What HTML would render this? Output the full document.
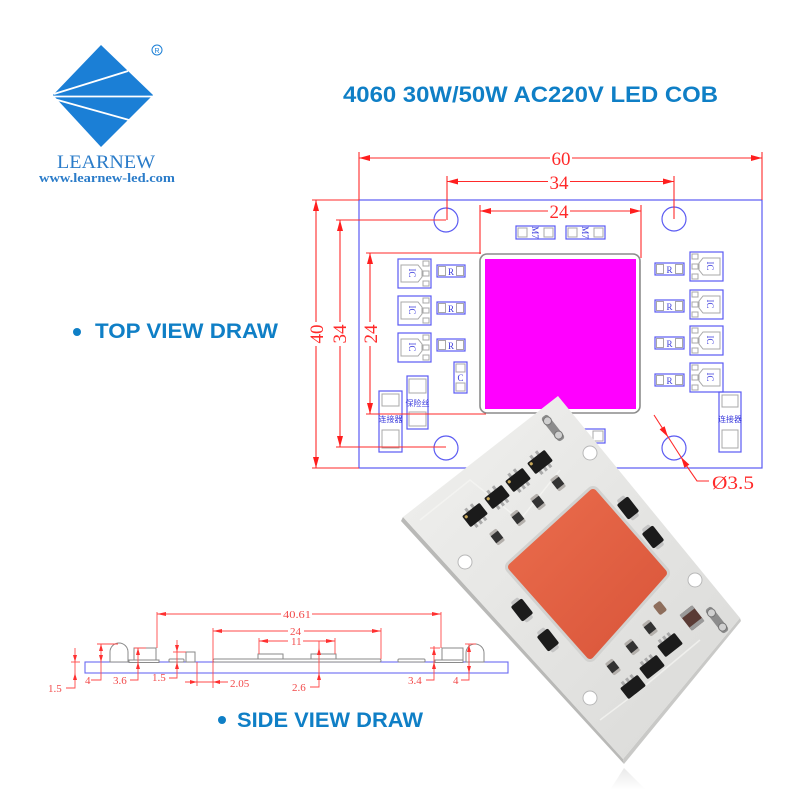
<!DOCTYPE html>
<html><head><meta charset="utf-8">
<style>
html,body{margin:0;padding:0;background:#fff}
svg{display:block}
.b{fill:none;stroke:#5b5bf2;stroke-width:1.2}
.g{fill:none;stroke:#a8a8a8;stroke-width:1}
.t{fill:#3b3bdc;font-family:"Liberation Serif",serif;font-size:9px}
.tc{fill:#3b3bdc;font-family:"Liberation Sans","Noto Sans CJK SC",sans-serif;font-size:8px}
.r{stroke:#ff2a2a;stroke-width:1.1;fill:none}
.rf{fill:#ff1e1e}
.rt{fill:#ff2a2a;font-family:"Liberation Serif",serif}
.sg{fill:#fff;stroke:#8a8a8a;stroke-width:1}
.sr{stroke:#ff4a4a;stroke-width:0.9;fill:none}
.srf{fill:#ff3030}
.st{fill:#f24a4a;font-family:"Liberation Serif",serif;font-size:11px}
</style></head>
<body>
<svg width="800" height="800" viewBox="0 0 800 800" xmlns="http://www.w3.org/2000/svg">
<defs>
<linearGradient id="pb" x1="0" y1="0" x2="1" y2="1">
<stop offset="0" stop-color="#f1f1ef"/><stop offset="1" stop-color="#d9d9d7"/>
</linearGradient>
<linearGradient id="or" x1="0" y1="0" x2="1" y2="1">
<stop offset="0" stop-color="#ea6c4c"/><stop offset="1" stop-color="#d9553a"/>
</linearGradient>
<linearGradient id="rf" x1="0" y1="0" x2="0" y2="1">
<stop offset="0" stop-color="#e4e4e4"/><stop offset="1" stop-color="#ffffff"/>
</linearGradient>
</defs>

<!-- LOGO -->
<polygon points="101,45 153,95 101,147 53,95" fill="#1b7fd6"/>
<line x1="54" y1="94" x2="128" y2="71" stroke="#fff" stroke-width="1.8"/>
<line x1="54" y1="96.5" x2="152" y2="96.5" stroke="#fff" stroke-width="1.8"/>
<line x1="54" y1="99" x2="129" y2="120" stroke="#fff" stroke-width="1.8"/>
<circle cx="157" cy="50" r="5" fill="none" stroke="#1b7fd6" stroke-width="1"/>
<text x="157" y="53" font-family="Liberation Sans,sans-serif" font-size="7" fill="#1b7fd6" text-anchor="middle">R</text>
<text x="57" y="168" font-family="Liberation Serif,serif" font-size="19" fill="#2b7cc9" textLength="98" lengthAdjust="spacingAndGlyphs">LEARNEW</text>
<text x="39" y="182" font-family="Liberation Serif,serif" font-size="13" font-weight="bold" fill="#2b7cc9" textLength="136" lengthAdjust="spacingAndGlyphs">www.learnew-led.com</text>

<!-- TITLE -->
<text x="343" y="102" font-family="Liberation Sans,sans-serif" font-size="22.5" font-weight="bold" fill="#0f7fc6" textLength="375" lengthAdjust="spacingAndGlyphs">4060 30W/50W AC220V LED COB</text>

<!-- TOP VIEW label -->
<circle cx="77" cy="332" r="4" fill="#0f7fc6"/>
<text x="95" y="338" font-family="Liberation Sans,sans-serif" font-size="21" font-weight="bold" fill="#0f7fc6" textLength="183" lengthAdjust="spacingAndGlyphs">TOP VIEW DRAW</text>

<!-- SIDE VIEW label -->
<circle cx="222" cy="720" r="4" fill="#0f7fc6"/>
<text x="237" y="727" font-family="Liberation Sans,sans-serif" font-size="21" font-weight="bold" fill="#0f7fc6" textLength="186" lengthAdjust="spacingAndGlyphs">SIDE VIEW DRAW</text>

<!-- ================= TOP DRAWING ================= -->
<rect x="359" y="200" width="403" height="268" fill="#fff" class="b"/>
<circle cx="446" cy="220" r="12" class="b"/>
<circle cx="674" cy="219" r="12" class="b"/>
<circle cx="446" cy="448" r="12" class="b"/>
<circle cx="674" cy="448" r="12" class="b"/>

<!-- COB -->
<rect x="480" y="254" width="160" height="159" rx="7" fill="#fff" stroke="#8c8c8c" stroke-width="1.6"/>
<rect x="485" y="259" width="151" height="150" fill="#ff00ff"/>

<!-- M7 boxes -->
<g transform="translate(516,226)"><rect width="39" height="13" class="b"/><rect x="2" y="2" width="9" height="9" class="g"/><rect x="28" y="2" width="9" height="9" class="g"/><text transform="translate(16,6.5) rotate(90)" class="t" font-size="7" text-anchor="middle">M7</text></g>
<g transform="translate(566,226)"><rect width="39" height="13" class="b"/><rect x="2" y="2" width="9" height="9" class="g"/><rect x="28" y="2" width="9" height="9" class="g"/><text transform="translate(16,6.5) rotate(90)" class="t" font-size="7" text-anchor="middle">M7</text></g>

<!-- left ICs -->
<g transform="translate(398,259)"><rect width="33" height="29" class="b"/><path d="M3,6H20L24,11V18L20,23H3Z" class="g"/><rect x="25" y="2" width="6" height="5" class="g"/><rect x="25" y="12" width="6" height="5" class="g"/><rect x="25" y="22" width="6" height="5" class="g"/><text transform="translate(11,14) rotate(90)" class="t" text-anchor="middle">IC</text></g>
<g transform="translate(398,296)"><rect width="33" height="29" class="b"/><path d="M3,6H20L24,11V18L20,23H3Z" class="g"/><rect x="25" y="2" width="6" height="5" class="g"/><rect x="25" y="12" width="6" height="5" class="g"/><rect x="25" y="22" width="6" height="5" class="g"/><text transform="translate(11,14) rotate(90)" class="t" text-anchor="middle">IC</text></g>
<g transform="translate(398,333)"><rect width="33" height="29" class="b"/><path d="M3,6H20L24,11V18L20,23H3Z" class="g"/><rect x="25" y="2" width="6" height="5" class="g"/><rect x="25" y="12" width="6" height="5" class="g"/><rect x="25" y="22" width="6" height="5" class="g"/><text transform="translate(11,14) rotate(90)" class="t" text-anchor="middle">IC</text></g>
<!-- left R -->
<g transform="translate(437,265)"><rect width="28" height="12" class="b"/><rect x="1.5" y="1.5" width="7" height="9" class="g"/><rect x="19.5" y="1.5" width="7" height="9" class="g"/><text x="14" y="10" class="t" text-anchor="middle">R</text></g>
<g transform="translate(437,302)"><rect width="28" height="12" class="b"/><rect x="1.5" y="1.5" width="7" height="9" class="g"/><rect x="19.5" y="1.5" width="7" height="9" class="g"/><text x="14" y="10" class="t" text-anchor="middle">R</text></g>
<g transform="translate(437,339)"><rect width="28" height="12" class="b"/><rect x="1.5" y="1.5" width="7" height="9" class="g"/><rect x="19.5" y="1.5" width="7" height="9" class="g"/><text x="14" y="10" class="t" text-anchor="middle">R</text></g>

<!-- right ICs -->
<g transform="translate(690,252)"><rect width="33" height="29" class="b"/><path d="M30,6H13L9,11V18L13,23H30Z" class="g"/><rect x="2" y="2" width="6" height="5" class="g"/><rect x="2" y="12" width="6" height="5" class="g"/><rect x="2" y="22" width="6" height="5" class="g"/><text transform="translate(17,14) rotate(90)" class="t" text-anchor="middle">IC</text></g>
<g transform="translate(690,290)"><rect width="33" height="29" class="b"/><path d="M30,6H13L9,11V18L13,23H30Z" class="g"/><rect x="2" y="2" width="6" height="5" class="g"/><rect x="2" y="12" width="6" height="5" class="g"/><rect x="2" y="22" width="6" height="5" class="g"/><text transform="translate(17,14) rotate(90)" class="t" text-anchor="middle">IC</text></g>
<g transform="translate(690,326)"><rect width="33" height="29" class="b"/><path d="M30,6H13L9,11V18L13,23H30Z" class="g"/><rect x="2" y="2" width="6" height="5" class="g"/><rect x="2" y="12" width="6" height="5" class="g"/><rect x="2" y="22" width="6" height="5" class="g"/><text transform="translate(17,14) rotate(90)" class="t" text-anchor="middle">IC</text></g>
<g transform="translate(690,363)"><rect width="33" height="29" class="b"/><path d="M30,6H13L9,11V18L13,23H30Z" class="g"/><rect x="2" y="2" width="6" height="5" class="g"/><rect x="2" y="12" width="6" height="5" class="g"/><rect x="2" y="22" width="6" height="5" class="g"/><text transform="translate(17,14) rotate(90)" class="t" text-anchor="middle">IC</text></g>
<!-- right R -->
<g transform="translate(655,263)"><rect width="29" height="12" class="b"/><rect x="1.5" y="1.5" width="7" height="9" class="g"/><rect x="20.5" y="1.5" width="7" height="9" class="g"/><text x="14.5" y="10" class="t" text-anchor="middle">R</text></g>
<g transform="translate(655,300)"><rect width="29" height="12" class="b"/><rect x="1.5" y="1.5" width="7" height="9" class="g"/><rect x="20.5" y="1.5" width="7" height="9" class="g"/><text x="14.5" y="10" class="t" text-anchor="middle">R</text></g>
<g transform="translate(655,337)"><rect width="29" height="12" class="b"/><rect x="1.5" y="1.5" width="7" height="9" class="g"/><rect x="20.5" y="1.5" width="7" height="9" class="g"/><text x="14.5" y="10" class="t" text-anchor="middle">R</text></g>
<g transform="translate(655,374)"><rect width="29" height="12" class="b"/><rect x="1.5" y="1.5" width="7" height="9" class="g"/><rect x="20.5" y="1.5" width="7" height="9" class="g"/><text x="14.5" y="10" class="t" text-anchor="middle">R</text></g>

<!-- C -->
<g transform="translate(454,362)"><rect width="13" height="31" class="b"/><rect x="2" y="2" width="9" height="8" class="g"/><rect x="2" y="21" width="9" height="8" class="g"/><text x="6.5" y="19" class="t" text-anchor="middle">C</text></g>
<!-- fuse -->
<g transform="translate(407,376)"><rect width="21" height="53" class="b"/><rect x="2" y="3" width="17" height="14" class="g"/><rect x="2" y="36" width="17" height="14" class="g"/><text x="10.5" y="30" class="tc" text-anchor="middle" font-size="7">保险丝</text></g>
<!-- connectors -->
<g transform="translate(379,391)"><rect width="23" height="61" class="b"/><rect x="3" y="3" width="17" height="12" class="g"/><rect x="3" y="39" width="17" height="18" class="g"/><text x="11.5" y="31" class="tc" text-anchor="middle" font-size="7">连接器</text></g>
<g transform="translate(719,392)"><rect width="22" height="60" class="b"/><rect x="3" y="3" width="16" height="12" class="g"/><rect x="3" y="38" width="16" height="18" class="g"/><text x="11" y="30" class="tc" text-anchor="middle" font-size="7">连接器</text></g>
<!-- small box bottom center -->
<g transform="translate(580,429)"><rect width="25" height="14" class="b"/><rect x="13" y="2" width="10" height="10" class="g"/></g>

<!-- dimension lines top -->
<g class="r">
<line x1="359" y1="152" x2="359" y2="200"/><line x1="762" y1="152" x2="762" y2="200"/>
<line x1="359" y1="158" x2="550" y2="158"/><line x1="572" y1="158" x2="762" y2="158"/>
<line x1="447" y1="176" x2="447" y2="220"/><line x1="674" y1="176" x2="674" y2="219"/>
<line x1="447" y1="181.5" x2="548" y2="181.5"/><line x1="570" y1="181.5" x2="674" y2="181.5"/>
<line x1="480" y1="205" x2="480" y2="254"/><line x1="641" y1="205" x2="641" y2="258"/>
<line x1="480" y1="211" x2="548" y2="211"/><line x1="570" y1="211" x2="641" y2="211"/>
<!-- left verticals -->
<line x1="312" y1="200" x2="359" y2="200"/><line x1="312" y1="468" x2="359" y2="468"/>
<line x1="316" y1="200" x2="316" y2="322"/><line x1="316" y1="346" x2="316" y2="468"/>
<line x1="336" y1="220" x2="446" y2="220"/><line x1="336" y1="447" x2="446" y2="447"/>
<line x1="340" y1="220" x2="340" y2="322"/><line x1="340" y1="346" x2="340" y2="447"/>
<line x1="366" y1="253" x2="481" y2="253"/><line x1="366" y1="414" x2="486" y2="414"/>
<line x1="370" y1="253" x2="370" y2="322"/><line x1="370" y1="346" x2="370" y2="414"/>
<!-- diameter leader -->
<polyline points="654,415 688,468 697,481 709,481"/>
</g>
<g class="rf">
<polygon points="359,158 370,155 370,161"/><polygon points="762,158 751,155 751,161"/>
<polygon points="447,181.5 458,178.5 458,184.5"/><polygon points="674,181.5 663,178.5 663,184.5"/>
<polygon points="480,211 491,208 491,214"/><polygon points="641,211 630,208 630,214"/>
<polygon points="316,200 313,211 319,211"/><polygon points="316,468 313,457 319,457"/>
<polygon points="340,220 337,231 343,231"/><polygon points="340,447 337,436 343,436"/>
<polygon points="370,253 367,264 373,264"/><polygon points="370,414 367,403 373,403"/>
<polygon points="668,437 659.6,429.4 664.6,426.2"/>
<polygon points="681,457 689.4,464.6 684.4,467.8"/>
</g>
<g class="rt" font-size="19">
<text x="561" y="165" text-anchor="middle">60</text>
<text x="559" y="189" text-anchor="middle">34</text>
<text x="559" y="218" text-anchor="middle">24</text>
<text transform="translate(323,334) rotate(-90)" text-anchor="middle">40</text>
<text transform="translate(346,334) rotate(-90)" text-anchor="middle">34</text>
<text transform="translate(377,334) rotate(-90)" text-anchor="middle">24</text>
<text x="712" y="489" textLength="42" lengthAdjust="spacingAndGlyphs">Ø3.5</text>
</g>

<!-- ================= SIDE VIEW ================= -->
<rect x="85" y="662" width="423" height="11" fill="#fff" stroke="#6a6af2" stroke-width="1.1"/>
<path d="M110,662V652A9,9 0 0 1 128,652V662Z" class="sg"/>
<rect x="129" y="660" width="30" height="2.5" class="sg"/><rect x="134" y="648" width="22" height="12" class="sg"/>
<rect x="169" y="659" width="15" height="3" rx="1" class="sg"/><rect x="186" y="652" width="9" height="10" class="sg"/>
<rect x="213" y="659" width="168" height="3" rx="1.5" class="sg"/>
<rect x="258" y="654" width="25" height="5" class="sg"/><rect x="311" y="654" width="25" height="5" class="sg"/>
<rect x="398" y="659" width="27" height="3" rx="1" class="sg"/>
<rect x="435" y="660" width="28" height="2.5" class="sg"/><rect x="442" y="648" width="21" height="12" class="sg"/>
<path d="M466,662V653A9,9 0 0 1 484,653V662Z" class="sg"/>

<g class="sr">
<line x1="157" y1="614" x2="281" y2="614"/><line x1="312" y1="614" x2="441" y2="614"/>
<line x1="157" y1="612" x2="157" y2="648"/><line x1="441" y1="612" x2="441" y2="648"/>
<line x1="213" y1="631" x2="288" y2="631"/><line x1="304" y1="631" x2="381" y2="631"/>
<line x1="213" y1="628" x2="213" y2="688"/><line x1="381" y1="628" x2="381" y2="659"/>
<line x1="259" y1="641" x2="288" y2="641"/><line x1="303" y1="641" x2="335" y2="641"/>
<line x1="259" y1="638" x2="259" y2="654"/><line x1="335" y1="638" x2="335" y2="654"/>
<polyline points="310,687 319,687 319,641"/>
<polyline points="426,680 434,680 434,646"/><line x1="430" y1="648" x2="440" y2="648"/>
<polyline points="461,680 469,680 469,644"/><line x1="465" y1="644" x2="476" y2="644"/>
<polyline points="66,688 75,688 75,648"/><line x1="71" y1="662" x2="80" y2="662"/>
<polyline points="91,680 101,680 101,644"/><line x1="97" y1="644" x2="118" y2="644"/>
<polyline points="130,680 138,680 138,648"/><line x1="134" y1="648" x2="146" y2="648"/>
<polyline points="169,678 177,678 177,640"/><line x1="173" y1="652" x2="186" y2="652"/>
<line x1="197" y1="662" x2="197" y2="686"/><line x1="185" y1="682" x2="228" y2="682"/>
</g>
<g class="srf">
<polygon points="157,614 166,612 166,616"/><polygon points="441,614 432,612 432,616"/>
<polygon points="213,631 222,629 222,633"/><polygon points="381,631 372,629 372,633"/>
<polygon points="259,641 268,639 268,643"/><polygon points="335,641 326,639 326,643"/>
<polygon points="319,648 317,655 321,655"/><polygon points="319,673 317,680 321,680"/>
<polygon points="434,648 432,655 436,655"/><polygon points="434,662 432,669 436,669"/>
<polygon points="469,645 467,652 471,652"/><polygon points="469,673 467,666 471,666"/>
<polygon points="75,662 73,655 77,655"/><polygon points="75,673 73,680 77,680"/>
<polygon points="101,644 99,651 103,651"/><polygon points="101,662 99,655 103,655"/>
<polygon points="138,648 136,655 140,655"/><polygon points="138,662 136,669 140,669"/>
<polygon points="177,652 175,645 179,645"/><polygon points="177,662 175,669 179,669"/>
<polygon points="197,682 190,680 190,684"/><polygon points="213,682 220,680 220,684"/>
</g>
<g class="st">
<text x="283" y="618" textLength="28" lengthAdjust="spacingAndGlyphs">40.61</text>
<text x="290" y="635">24</text>
<text x="291" y="645">11</text>
<text x="292" y="691">2.6</text>
<text x="408" y="684">3.4</text>
<text x="453" y="684">4</text>
<text x="48" y="692">1.5</text>
<text x="85" y="684">4</text>
<text x="113" y="684">3.6</text>
<text x="152" y="681">1.5</text>
<text x="230" y="687">2.05</text>
</g>

<!-- ================= PHOTO ================= -->
<polygon points="610,790 624,768 646,790" fill="url(#rf)" opacity="0.8"/>
<polygon points="403,517 623,759 624,764 401,521" fill="#b9b9b7"/>
<polygon points="623,759 740,618 741,621 624,764" fill="#c9c9c7"/>
<polygon points="558,396 740,618 623,759 403,517" fill="url(#pb)"/>
<!-- faint traces -->
<polyline points="420,520 470,480 520,520 560,470" fill="none" stroke="#f6f6f4" stroke-width="1.5" opacity="0.7"/>
<polyline points="600,720 640,690 700,640" fill="none" stroke="#f6f6f4" stroke-width="1.5" opacity="0.7"/>
<!-- holes -->
<circle cx="590" cy="453" r="7" fill="#fff" stroke="#b8b8b8"/>
<circle cx="465" cy="562" r="7" fill="#fff" stroke="#b8b8b8"/>
<circle cx="695" cy="580" r="7" fill="#fff" stroke="#b8b8b8"/>
<circle cx="590" cy="698" r="7" fill="#fff" stroke="#b8b8b8"/>
<!-- COB -->
<polygon points="593,493 663,573 590,655 512,567" fill="#d2d2d0" stroke="#d2d2d0" stroke-width="14" stroke-linejoin="round"/>
<polygon points="593,493 663,573 590,655 512,567" fill="url(#or)" stroke="url(#or)" stroke-width="8" stroke-linejoin="round"/>

<!-- ICs top row -->
<g transform="translate(540,462) rotate(-38)"><rect x="-5" y="-11" width="3" height="5" fill="#aaa"/><rect x="2" y="-11" width="3" height="5" fill="#aaa"/><rect x="-7" y="6" width="3" height="5" fill="#aaa"/><rect x="-1.5" y="6" width="3" height="5" fill="#aaa"/><rect x="4" y="6" width="3" height="5" fill="#aaa"/><rect x="-11" y="-7" width="22" height="14" rx="1.5" fill="#1b1b1b"/><circle cx="-8" cy="-4" r="1.6" fill="#c9a85a"/></g>
<g transform="translate(518,480) rotate(-38)"><rect x="-5" y="-11" width="3" height="5" fill="#aaa"/><rect x="2" y="-11" width="3" height="5" fill="#aaa"/><rect x="-7" y="6" width="3" height="5" fill="#aaa"/><rect x="-1.5" y="6" width="3" height="5" fill="#aaa"/><rect x="4" y="6" width="3" height="5" fill="#aaa"/><rect x="-11" y="-7" width="22" height="14" rx="1.5" fill="#1b1b1b"/><circle cx="-8" cy="-4" r="1.6" fill="#c9a85a"/></g>
<g transform="translate(497,497) rotate(-38)"><rect x="-5" y="-11" width="3" height="5" fill="#aaa"/><rect x="2" y="-11" width="3" height="5" fill="#aaa"/><rect x="-7" y="6" width="3" height="5" fill="#aaa"/><rect x="-1.5" y="6" width="3" height="5" fill="#aaa"/><rect x="4" y="6" width="3" height="5" fill="#aaa"/><rect x="-11" y="-7" width="22" height="14" rx="1.5" fill="#1b1b1b"/><circle cx="-8" cy="-4" r="1.6" fill="#c9a85a"/></g>
<g transform="translate(475,515) rotate(-38)"><rect x="-5" y="-11" width="3" height="5" fill="#aaa"/><rect x="2" y="-11" width="3" height="5" fill="#aaa"/><rect x="-7" y="6" width="3" height="5" fill="#aaa"/><rect x="-1.5" y="6" width="3" height="5" fill="#aaa"/><rect x="4" y="6" width="3" height="5" fill="#aaa"/><rect x="-11" y="-7" width="22" height="14" rx="1.5" fill="#1b1b1b"/><circle cx="-8" cy="-4" r="1.6" fill="#c9a85a"/></g>
<!-- resistors top -->
<g transform="translate(558,483) rotate(52)"><rect x="-7.5" y="-4.5" width="15" height="9" rx="1.5" fill="#b4b0ac"/><rect x="-4.5" y="-4.5" width="9" height="9" fill="#333"/></g>
<g transform="translate(538,502) rotate(52)"><rect x="-7.5" y="-4.5" width="15" height="9" rx="1.5" fill="#b4b0ac"/><rect x="-4.5" y="-4.5" width="9" height="9" fill="#333"/></g>
<g transform="translate(518,518) rotate(52)"><rect x="-7.5" y="-4.5" width="15" height="9" rx="1.5" fill="#b4b0ac"/><rect x="-4.5" y="-4.5" width="9" height="9" fill="#333"/></g>
<g transform="translate(497,537) rotate(52)"><rect x="-7.5" y="-4.5" width="15" height="9" rx="1.5" fill="#b4b0ac"/><rect x="-4.5" y="-4.5" width="9" height="9" fill="#333"/></g>
<!-- diodes -->
<g transform="translate(628,508) rotate(52)"><rect x="-13" y="-4.5" width="26" height="9" rx="2" fill="#c4c4c4"/><rect x="-9.5" y="-7" width="19" height="14" rx="2" fill="#1b1b1b"/></g>
<g transform="translate(653,537) rotate(52)"><rect x="-13" y="-4.5" width="26" height="9" rx="2" fill="#c4c4c4"/><rect x="-9.5" y="-7" width="19" height="14" rx="2" fill="#1b1b1b"/></g>
<g transform="translate(522,610) rotate(52)"><rect x="-13" y="-4.5" width="26" height="9" rx="2" fill="#c4c4c4"/><rect x="-9.5" y="-7" width="19" height="14" rx="2" fill="#1b1b1b"/></g>
<g transform="translate(548,640) rotate(52)"><rect x="-13" y="-4.5" width="26" height="9" rx="2" fill="#c4c4c4"/><rect x="-9.5" y="-7" width="19" height="14" rx="2" fill="#1b1b1b"/></g>
<!-- bottom right cluster -->
<g transform="translate(670,645) rotate(-38)"><rect x="-7" y="-11" width="3" height="5" fill="#aaa"/><rect x="-1.5" y="-11" width="3" height="5" fill="#aaa"/><rect x="4" y="-11" width="3" height="5" fill="#aaa"/><rect x="-11" y="-7" width="22" height="14" rx="1.5" fill="#1b1b1b"/></g>
<g transform="translate(652,667) rotate(-38)"><rect x="-7" y="-11" width="3" height="5" fill="#aaa"/><rect x="-1.5" y="-11" width="3" height="5" fill="#aaa"/><rect x="4" y="-11" width="3" height="5" fill="#aaa"/><rect x="-11" y="-7" width="22" height="14" rx="1.5" fill="#1b1b1b"/></g>
<g transform="translate(633,687) rotate(-38)"><rect x="-7" y="-11" width="3" height="5" fill="#aaa"/><rect x="-1.5" y="-11" width="3" height="5" fill="#aaa"/><rect x="4" y="-11" width="3" height="5" fill="#aaa"/><rect x="-11" y="-7" width="22" height="14" rx="1.5" fill="#1b1b1b"/></g>
<g transform="translate(650,628) rotate(52)"><rect x="-7.5" y="-4.5" width="15" height="9" rx="1.5" fill="#b4b0ac"/><rect x="-4.5" y="-4.5" width="9" height="9" fill="#333"/></g>
<g transform="translate(632,647) rotate(52)"><rect x="-7.5" y="-4.5" width="15" height="9" rx="1.5" fill="#b4b0ac"/><rect x="-4.5" y="-4.5" width="9" height="9" fill="#333"/></g>
<g transform="translate(613,667) rotate(52)"><rect x="-7.5" y="-4.5" width="15" height="9" rx="1.5" fill="#b4b0ac"/><rect x="-4.5" y="-4.5" width="9" height="9" fill="#333"/></g>
<g transform="translate(660,608) rotate(52)"><rect x="-6" y="-4.5" width="12" height="9" rx="2" fill="#8e6e5c"/></g>
<g transform="translate(692,618) rotate(52)"><rect x="-10" y="-8" width="20" height="16" rx="2" fill="#5a3b35"/><rect x="-10" y="-8" width="4" height="16" fill="#9a9a9a"/><rect x="6" y="-8" width="4" height="16" fill="#9a9a9a"/></g>
<!-- terminals -->
<g transform="translate(553,428) rotate(-38)"><rect x="-4" y="-15" width="8" height="30" rx="3" fill="#8c8c8c"/><circle cx="0" cy="-9" r="4" fill="#d0d0d0" stroke="#777"/><circle cx="0" cy="9" r="4" fill="#d0d0d0" stroke="#777"/></g>
<g transform="translate(717,620) rotate(-38)"><rect x="-4" y="-15" width="8" height="30" rx="3" fill="#8c8c8c"/><circle cx="0" cy="-9" r="4" fill="#d0d0d0" stroke="#777"/><circle cx="0" cy="9" r="4" fill="#d0d0d0" stroke="#777"/></g>
</svg>
</body></html>
